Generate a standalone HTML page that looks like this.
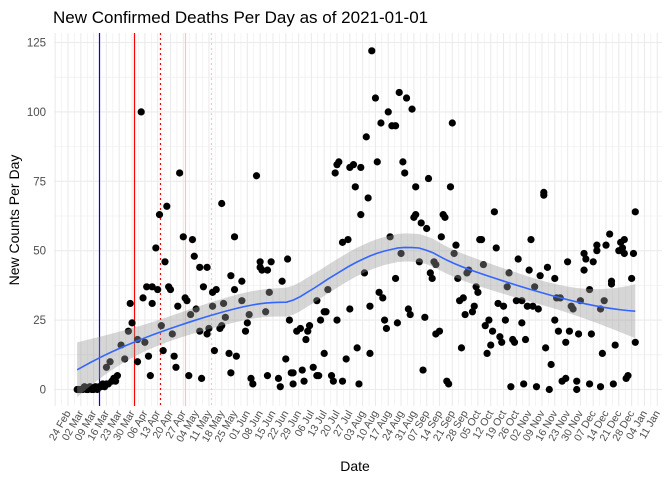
<!DOCTYPE html>
<html><head><meta charset="utf-8"><style>
body{margin:0;background:#fff;}
svg{display:block;font-family:"Liberation Sans",sans-serif;}
</style></head><body>
<svg id="chart" width="672" height="480"></svg>
<script>
const dayOffsets=[5,6,7,8,9,10,11,12,13,14,15,16,17,18,19,20,21,22,24,25,26,27,
23,21,29,31,34,35,33,38,38,40,41,43,44,42,45,46,46,48,49,50,51,52,54,53,55,56,57,58,59,60,61,63,64,65,66,67,68,69,70,72,72,73,74,76,76,79,77,79,81,80,83,84,85,84,86,88,89,89,91,91,92,95,95,97,98,100,101,99,103,105,105,106,109,111,109,108,110,115,116,117,119,120,121,122,123,123,125,127,128,129,130,131,132,134,136,136,
137,138,140,141,140,142,144,145,146,147,148,147,150,152,153,150,154,156,154,157,158,160,159,160,162,163,164,165,165,166,168,169,170,171,172,173,174,175,176,177,179,179,180,181,182,183,184,185,186,187,188,189,190,190,192,193,194,195,196,197,198,199,200,201,201,203,204,205,206,207,208,209,210,211,212,213,215,214,216,217,218,219,221,222,223,224,225,
226,227,228,229,230,231,232,233,234,235,236,237,238,239,241,240,242,243,244,245,246,248,248,249,250,251,252,253,254,255,256,257,258,260,260,261,262,263,264,266,266,268,267,269,270,272,272,273,274,275,276,278,278,279,280,282,282,283,285,285,286,287,289,289,291,291,292,293,294,296,297,297,298,299,301,302,303,304,304,305,306,308,309,310,310];
const deathValues=[0,0,0,0,1,0,0,1,0,0,1,0,1,1,2,1,2,2,3,4,3,5,
10,8,16,11,31,24,21,18,10,100,33,37,12,17,5,37,31,51,36,63,23,14,66,46,37,36,20,12,8,30,78,55,33,32,5,27,54,48,29,44,21,4,37,20,44,30,22,35,36,14,22,67,31,23,26,13,6,41,36,55,12,39,32,21,24,4,2,27,77,46,44,43,43,46,5,28,35,4,1,39,11,47,25,6,6,2,21,22,7,3,18,21,23,8,32,5,
5,25,28,28,13,36,5,3,78,81,82,25,53,11,54,3,80,81,29,73,15,80,2,63,42,91,69,30,13,122,105,82,35,96,33,25,22,100,55,95,95,40,24,107,49,82,78,105,29,27,101,62,63,73,46,60,7,26,58,76,42,40,46,45,20,21,55,63,62,3,2,73,96,49,52,40,15,32,33,27,42,43,28,30,37,35,54,
54,45,23,13,25,16,21,64,51,31,19,17,30,25,42,37,1,18,17,32,47,32,24,2,18,30,43,54,30,37,1,29,41,70,71,15,44,0,9,25,40,21,33,33,3,17,4,46,21,30,29,3,0,20,32,49,43,47,2,36,20,46,50,52,29,1,13,32,52,56,38,39,2,16,50,53,51,54,49,4,5,40,49,64,17];
const vlineDays=[17,36,50,64,78];
const vlineColors=["#0000ff","#ff0000","#ff0000","#ffc0cb","#ffc0cb"];
const vlineDash=["","","2,3","","2,3"];
const yTicks=[0,25,50,75,100,125];
const monthNames=["Jan","Feb","Mar","Apr","May","Jun","Jul","Aug","Sep","Oct","Nov","Dec"];

const svg=document.getElementById('chart');
const NS="http://www.w3.org/2000/svg";
const PL=54,PR=662,PT=33,PB=406;
function xs(d){return 68+d*1.83;}
function ys(v){return 389.5-v*2.776;}
function mk(tag,attrs,parent){const e=document.createElementNS(NS,tag);for(const k in attrs)e.setAttribute(k,attrs[k]);(parent||svg).appendChild(e);return e;}

const grid=mk('g',{});


for(let v=-12.5;v<=137.5;v+=12.5){const y=ys(v);if(y<PT||y>PB)continue;
 mk('line',{x1:PL,x2:PR,y1:y,y2:y,stroke:'#ebebeb','stroke-width':(v%25===0)?1.1:0.55},grid);}
for(let d=-7;d<=325;d+=3.5){const x=xs(d);if(x<PL||x>PR)continue;
 mk('line',{x1:x,x2:x,y1:PT,y2:PB,stroke:'#ebebeb','stroke-width':(d%7===0)?1.1:0.55},grid);}

vlineDays.forEach((d,i)=>{const x=Math.round(xs(d))+0.5;const l=mk('line',{x1:x,x2:x,y1:PT,y2:PB,stroke:vlineColors[i],'stroke-width':1.2});
 if(vlineDash[i])l.setAttribute('stroke-dasharray',vlineDash[i]);
 
 });

const pts=mk('g',{});


const n=Math.min(dayOffsets.length,deathValues.length);
for(let i=0;i<n;i++){const c=mk('circle',{cx:xs(dayOffsets[i]),cy:ys(deathValues[i]),r:3.6,fill:'#000'},pts);
 
 }

const X=dayOffsets.slice(0,n),Y=deathValues.slice(0,n);
const q=Math.floor(0.75*n);
function inv3(m){const [a,b,c]=m[0],[d,e,f]=m[1],[g,h,k]=m[2];
 const A=e*k-f*h,B=-(d*k-f*g),C=d*h-e*g;const det=a*A+b*B+c*C;
 return [A/det,-(b*k-c*h)/det,(b*f-c*e)/det];}
function fitAt(x0){const ds=X.map(x=>Math.abs(x-x0)).sort((a,b)=>a-b);const h=ds[q-1]*1.0001;
 const w=X.map(x=>{const u=Math.abs(x-x0)/h;return u<1?Math.pow(1-u*u*u,3):0;});
 let S=[0,0,0,0,0];for(let i=0;i<n;i++){let t=X[i]-x0,p=1;for(let k=0;k<5;k++){S[k]+=w[i]*p;p*=t;}}
 const a=inv3([[S[0],S[1],S[2]],[S[1],S[2],S[3]],[S[2],S[3],S[4]]]);
 const l=X.map((x,i)=>{const t=x-x0;return w[i]*(a[0]+a[1]*t+a[2]*t*t);});
 let f=0,ss=0;for(let i=0;i<n;i++){f+=l[i]*Y[i];ss+=l[i]*l[i];}return {f,ss};}
let rss=0;for(let i=0;i<n;i++){const r=fitAt(X[i]);rss+=(Y[i]-r.f)**2;}
const sigma=Math.sqrt(rss/(n-5));
const xmin=Math.min(...X),xmax=Math.max(...X);const line=[],up=[],lo=[];
for(let k=0;k<=80;k++){const x0=xmin+(xmax-xmin)*k/80;const r=fitAt(x0);const se=1.97*sigma*Math.sqrt(r.ss);
 line.push([xs(x0),ys(r.f)]);up.push([xs(x0),ys(r.f+se)]);lo.push([xs(x0),ys(r.f-se)]);}
const band=mk('path',{d:'M'+up.map(p=>p.join(',')).join('L')+'L'+lo.reverse().map(p=>p.join(',')).join('L')+'Z',fill:'#999',opacity:0.4});


const sm=mk('path',{d:'M'+line.map(p=>p.join(',')).join('L'),fill:'none',stroke:'#3366ff','stroke-width':1.6});



yTicks.forEach(v=>{const t=mk('text',{x:46,y:ys(v)+4,'text-anchor':'end','font-size':11.5,fill:'#4d4d4d'});t.textContent=v;
 
 });
const base=new Date(2020,1,24);
for(let d=0;d<=322;d+=7){const dt=new Date(base.getTime()+d*86400000);
 const lab=String(dt.getDate()).padStart(2,'0')+' '+monthNames[dt.getMonth()];
 const x=xs(d)+3,y=413;
 const t=mk('text',{x:x,y:y,'text-anchor':'end','font-size':10.5,fill:'#4d4d4d',transform:`rotate(-60 ${x} ${y})`});t.textContent=lab;
 
 }
</script>
<svg style="position:absolute;left:0;top:0" width="672" height="480">
<text x="53" y="23" font-size="17" fill="#000" font-family="Liberation Sans,sans-serif">New Confirmed Deaths Per Day as of 2021-01-01</text>
<text x="355" y="471" font-size="14" fill="#000" text-anchor="middle" font-family="Liberation Sans,sans-serif">Date</text>
<text x="19" y="220" font-size="14" fill="#000" text-anchor="middle" transform="rotate(-90 19 220)" font-family="Liberation Sans,sans-serif">New Counts Per Day</text>
</svg>
</body></html>
